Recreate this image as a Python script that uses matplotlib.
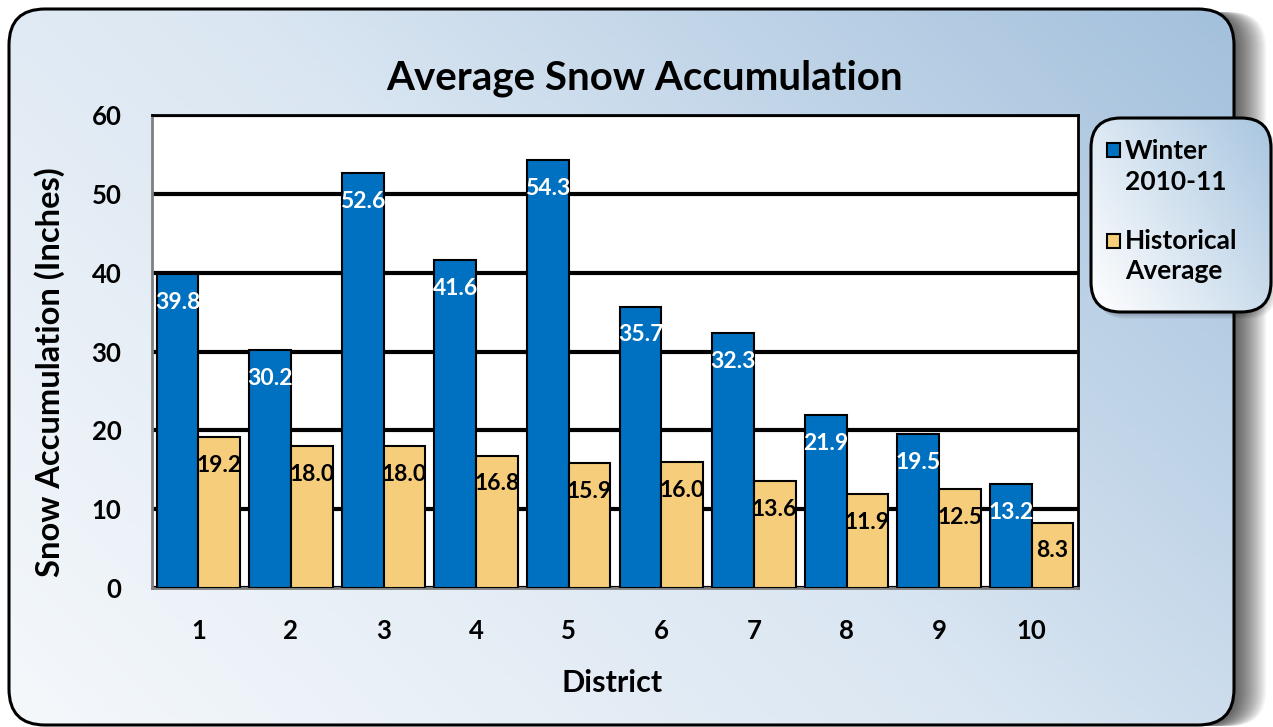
import numpy as np
import matplotlib
matplotlib.use("Agg")
import matplotlib.pyplot as plt
from matplotlib.patches import FancyBboxPatch, Rectangle
from matplotlib.colors import LinearSegmentedColormap

plt.rcParams['font.family'] = ['Lato', 'DejaVu Sans']
plt.rcParams['font.weight'] = 'bold'

districts = ['1', '2', '3', '4', '5', '6', '7', '8', '9', '10']
winter = [39.8, 30.2, 52.6, 41.6, 54.3, 35.7, 32.3, 21.9, 19.5, 13.2]
historical = [19.2, 18.0, 18.0, 16.8, 15.9, 16.0, 13.6, 11.9, 12.5, 8.3]

blue = '#0070c0'
gold = '#f6cd7a'

W, H = 1273, 727
fig = plt.figure(figsize=(W / 100, H / 100), dpi=100)
fig.patch.set_facecolor('white')

# background layer in pixel coords
bg = fig.add_axes([0, 0, 1, 1])
bg.set_xlim(0, W)
bg.set_ylim(H, 0)
bg.axis('off')

# soft shadow to the right of the panel
for i in range(28):
    sh = FancyBboxPatch((10 + i * 1.2, 12), 1224, 714, boxstyle='round,pad=0,rounding_size=36',
                        fc='black', ec='none', alpha=0.032, zorder=0)
    bg.add_patch(sh)

panel = FancyBboxPatch((9, 9), 1225, 716, boxstyle='round,pad=0,rounding_size=36',
                       fc='none', ec='black', lw=2.2, zorder=3)
bg.add_patch(panel)
panel_fill = FancyBboxPatch((9, 9), 1225, 716, boxstyle='round,pad=0,rounding_size=36',
                            fc='none', ec='none', zorder=1)
bg.add_patch(panel_fill)
gx, gy = np.meshgrid(np.linspace(0, 1, 300), np.linspace(0, 1, 300))
grad = gx * 0.62 + (1 - gy) * 0.38
cmap = LinearSegmentedColormap.from_list('bgc', ['#f5f8fb', '#dae6f2', '#a3c0dc'])
im = bg.imshow(grad, cmap=cmap, extent=(9, 1234, 725, 9), zorder=2, aspect='auto')
im.set_clip_path(panel_fill)

# legend box
for i in range(6):
    bg.add_patch(FancyBboxPatch((1092 + i, 120 + i), 180, 194,
                                boxstyle='round,pad=0,rounding_size=30',
                                fc='black', ec='none', alpha=0.04, zorder=4))
lg = FancyBboxPatch((1091, 118), 180, 194, boxstyle='round,pad=0,rounding_size=30',
                    fc='none', ec='black', lw=2.2, zorder=6)
bg.add_patch(lg)
lg_fill = FancyBboxPatch((1091, 118), 180, 194, boxstyle='round,pad=0,rounding_size=30',
                         fc='none', ec='none', zorder=5)
bg.add_patch(lg_fill)
cmap2 = LinearSegmentedColormap.from_list('lgc', ['#ffffff', '#a9c6e0'])
gx2, gy2 = np.meshgrid(np.linspace(0, 1, 100), np.linspace(0, 1, 100))
im2 = bg.imshow(gx2 * 0.6 + (1 - gy2) * 0.4, cmap=cmap2, extent=(1091, 1271, 312, 118),
                zorder=5, aspect='auto')
im2.set_clip_path(lg_fill)

bg.add_patch(Rectangle((1107, 143), 13, 14, fc=blue, ec='black', lw=1.5, zorder=7))
bg.text(1125, 151, 'Winter', fontsize=19, fontweight='bold', va='center', ha='left', zorder=7)
bg.text(1125, 182, '2010-11', fontsize=19, fontweight='bold', va='center', ha='left', zorder=7)
bg.add_patch(Rectangle((1107, 234), 13, 14, fc=gold, ec='black', lw=1.5, zorder=7))
bg.text(1125, 241, 'Historical', fontsize=19, fontweight='bold', va='center', ha='left', zorder=7)
bg.text(1125, 271, 'Average', fontsize=19, fontweight='bold', va='center', ha='left', zorder=7)

bg.text(645, 78, 'Average Snow Accumulation', fontsize=29, fontweight='bold',
        ha='center', va='center', zorder=7)
bg.text(50, 372, 'Snow Accumulation (Inches)', fontsize=23.5, fontweight='bold',
        rotation=90, ha='center', va='center', zorder=7)
bg.text(612, 683, 'District', fontsize=22, fontweight='bold',
        ha='center', va='center', zorder=7)

ax = fig.add_axes([152 / W, 1 - 588 / H, (1078 - 152) / W, (588 - 115) / H])
ax.set_facecolor('white')
x = np.arange(len(districts))
bw = 0.45
b1 = ax.bar(x - bw / 2, winter, bw, color=blue, edgecolor='black', lw=1.5, zorder=3)
b2 = ax.bar(x + bw / 2, historical, bw, color=gold, edgecolor='black', lw=1.5, zorder=3)
for r, v in zip(b1, winter):
    ax.text(r.get_x() + r.get_width() / 2, v - 3.6, f'{v:.1f}', ha='center', va='center',
            color='white', fontsize=16.5, fontweight='bold', zorder=5)
for r, v in zip(b2, historical):
    ax.text(r.get_x() + r.get_width() / 2, v - 3.6, f'{v:.1f}', ha='center', va='center',
            color='black', fontsize=16.5, fontweight='bold', zorder=5)

ax.set_xlim(-0.5, 9.5)
ax.set_ylim(0, 60)
ax.set_yticks(range(0, 61, 10))
ax.set_xticks(x)
ax.set_xticklabels(districts)
ax.yaxis.grid(True, color='black', lw=3, zorder=1)
ax.set_axisbelow(True)
ax.tick_params(length=0, labelsize=18.5)
ax.tick_params(axis='y', pad=22)
ax.tick_params(axis='x', pad=22)
for lab in ax.get_xticklabels() + ax.get_yticklabels():
    lab.set_fontweight('bold')
for s in ['left', 'bottom']:
    ax.spines[s].set_color('#808080')
    ax.spines[s].set_linewidth(2)
for s in ['top', 'right']:
    ax.spines[s].set_color('black')
    ax.spines[s].set_linewidth(2)

fig.savefig('out.png', dpi=100)
